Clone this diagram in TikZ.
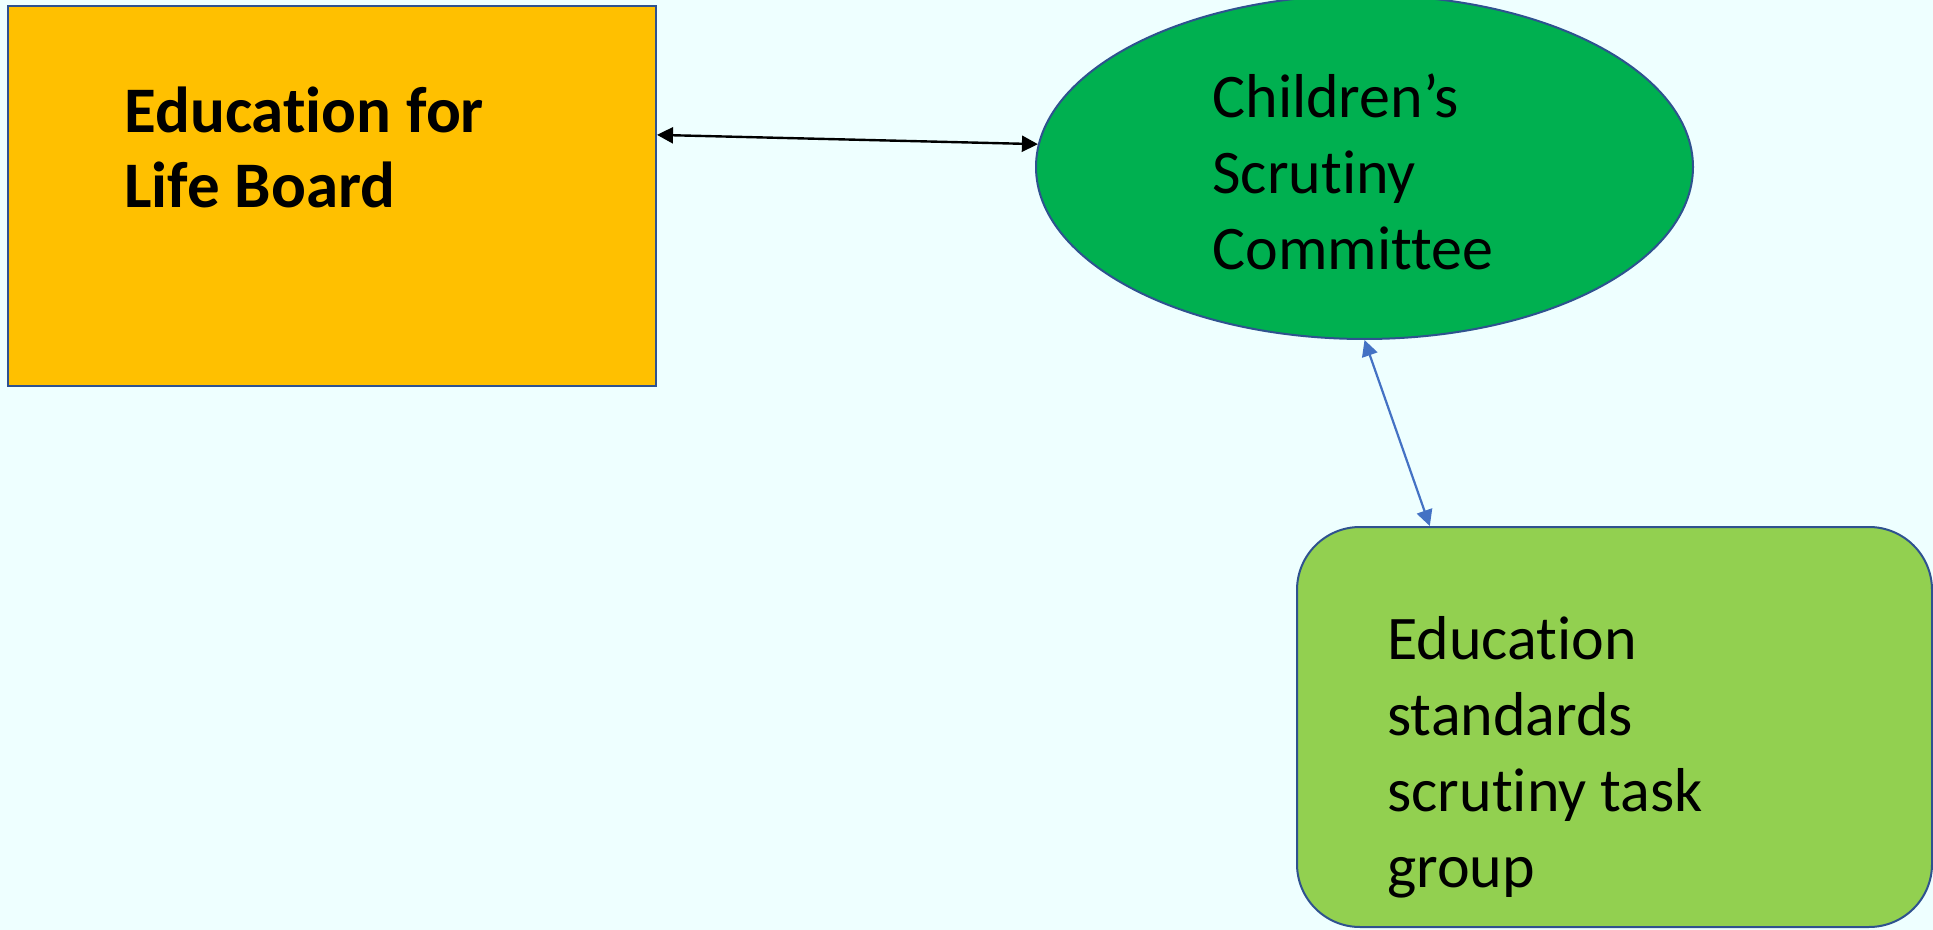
\documentclass[tikz,border=0pt]{standalone}
\usepackage{fontspec}
\setmainfont{Carlito}[Ligatures=NoCommon]
\usetikzlibrary{arrows.meta,calc,shapes.geometric}
\definecolor{bgcyan}{RGB}{238,255,255}
\definecolor{boardorange}{RGB}{255,192,0}
\definecolor{cscgreen}{RGB}{0,176,80}
\definecolor{grplime}{RGB}{146,208,80}
\definecolor{edgeblue}{RGB}{47,82,143}
\definecolor{linkblue}{RGB}{68,114,196}
\tikzset{box/.style={draw=edgeblue, line width=1pt, inner sep=0pt}}
\tikzset{txt/.style={anchor=base west, inner sep=0pt, align=left,
      font=\fontsize{31}{38}\selectfont}}
\tikzset{link/.style={line width=1.2pt,
      {Triangle[length=8pt,width=8pt]}-{Triangle[length=8pt,width=8pt]}}}

\begin{document}
\begin{tikzpicture}[x=0.5pt,y=-0.5pt]
    \useasboundingbox (0,0) rectangle (1933,930);
    \clip (0,0) rectangle (1933,930);
    \fill[bgcyan] (0,0) rectangle (1933,930);

    \node[box, fill=boardorange, minimum width=324pt, minimum height=190pt] (board) at (332,196) {};
    \node[box, ellipse, fill=cscgreen, minimum width=328.5pt, minimum height=172pt] (csc) at (1364.5,167) {};
    \node[box, rounded corners=31.5pt, fill=grplime, minimum width=317.5pt, minimum height=200pt] (grp) at (1614.5,727) {};

    % base anchor sits on the last line
    \node[txt, font=\fontsize{32.5}{37.5}\selectfont\bfseries] (boardtxt) at (124,208) {Education for\\Life Board};
    \node[txt] (csctxt) at (1212,270) {Children’s\\Scrutiny\\Committee};
    \node[txt] (grptxt) at (1387,887) {Education\\standards\\scrutiny task\\group};

    \draw[link] ($(board.north east)!0.34!(board.south east)$) -- (csc.176.5);
    \draw[link, linkblue, line width=1.1pt] (csc.south) -- ($(grp.north west)!0.21!(grp.north east)$);
\end{tikzpicture}
\end{document}
